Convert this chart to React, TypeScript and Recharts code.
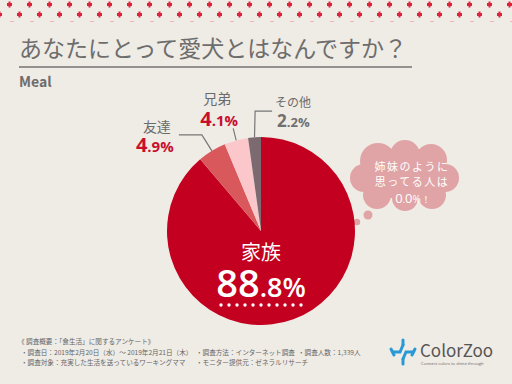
import { PieChart, Pie, Cell } from 'recharts'

const categories = ['家族', '友達', '兄弟', 'その他']
const shares = [88.8, 4.9, 4.1, 2.2]
const sliceColors = ['#c3001f', '#d9585b', '#fbc7ca', '#7b6b70']

const data = categories.map((name, i) => ({ name, value: shares[i] }))

const footerLeft = [
  '・調査日：2019年2月20日（水）～ 2019年2月21日（木）',
  '・調査対象：充実した生活を送っているワーキングママ',
]
const footerMid = ['・調査方法：インターネット調査', '・モニター提供元：ゼネラルリサーチ']

const JP = '"Noto Sans CJK JP", "Noto Sans", sans-serif'
const NUM = '"Open Sans", "Noto Sans", sans-serif'
const RAD = Math.PI / 180

// offsets from the slice's outer edge point for outside labels
const outside: Record<number, any> = {
  1: { line: [[-10, -16], [-33, -16]], name: [-55, -19, 'middle', 14], pct: [-76, 1], color: '#c8102e' },
  2: { line: [[-3, -12]], name: [-19, -36, 'middle', 14], pct: [-36, -14], color: '#c8102e' },
  3: { line: [[0.6, -26], [17.6, -26]], name: [20.6, -30, 'start', 12], pct: [22.6, -10], color: '#707070' },
}

function splitPct(v: number) {
  const s = v.toFixed(1)
  const [a, b] = s.split('.')
  return [a, '.' + b]
}

function renderLabel(props: any) {
  const { cx, cy, midAngle, outerRadius, index, value, name } = props
  const [whole, frac] = splitPct(value)
  if (index === 0) {
    const dots = Array.from({ length: 11 }, (_, i) => i)
    return (
      <g>
        <text x={cx} y={cy + 29} textAnchor="middle" fill="#fff" fontSize={20} fontFamily={JP}>
          {name}
        </text>
        <text x={cx} y={cy + 66} textAnchor="middle" fill="#fff" fontFamily={NUM} fontWeight={600}>
          <tspan fontSize={38}>{whole}</tspan>
          <tspan fontSize={27}>{frac}%</tspan>
        </text>
        {dots.map((d) => (
          <circle key={d} cx={cx - 40 + d * 8} cy={cy + 74} r={1.7} fill="#fff" />
        ))}
      </g>
    )
  }
  const o = outside[index]
  const ex = cx + outerRadius * Math.cos(-midAngle * RAD)
  const ey = cy + outerRadius * Math.sin(-midAngle * RAD)
  const pts = [[ex, ey], ...o.line.map(([dx, dy]: number[]) => [ex + dx, ey + dy])]
  return (
    <g>
      <polyline points={pts.map((p) => p.join(',')).join(' ')} fill="none" stroke="#777" strokeWidth={1.2} />
      <text x={ex + o.name[0]} y={ey + o.name[1]} textAnchor={o.name[2]} fill="#6b6b6b" fontSize={o.name[3]} fontFamily={JP}>
        {name}
      </text>
      <text x={ex + o.pct[0]} y={ey + o.pct[1]} textAnchor="start" fill={o.color} fontFamily={NUM} fontWeight={700}>
        <tspan fontSize={index === 3 ? 17 : 20}>{whole}</tspan>
        <tspan fontSize={index === 3 ? 13 : 15}>{frac}%</tspan>
      </text>
    </g>
  )
}

export default function App() {
  return (
    <div style={{ position: 'fixed', left: 0, top: 0, width: 512, height: 384, background: '#efebe5', overflow: 'hidden' }}>
      <svg width={512} height={384} style={{ position: 'absolute', left: 0, top: 0 }}>
        <defs>
          <pattern id="dots" width={20} height={20} patternUnits="userSpaceOnUse">
            <rect x={7} y={3} width={5} height={3} fill="#e0233d" />
            <rect x={8.5} y={1.5} width={2} height={6} fill="#e0233d" />
            <rect x={17} y={13} width={5} height={3} fill="#e0233d" />
            <rect x={18.5} y={11.5} width={2} height={6} fill="#e0233d" />
            <rect x={-3} y={13} width={5} height={3} fill="#e0233d" />
            <rect x={-1.5} y={11.5} width={2} height={6} fill="#e0233d" />
          </pattern>
        </defs>
        <rect x={0} y={0} width={512} height={20} fill="url(#dots)" />
        {Array.from({ length: 26 }, (_, i) => (
          <rect key={i} x={10 + i * 20} y={21} width={4} height={1} fill="#f0b4bb" />
        ))}
        <line x1={19} y1={67} x2={412} y2={67} stroke="#737373" strokeWidth={1.5} />
        {/* thought cloud */}
        <g fill="#e0a4a6">
          <circle cx={378} cy={161} r={18} />
          <circle cx={405} cy={155} r={15} />
          <circle cx={431} cy={160} r={16} />
          <circle cx={445} cy={178} r={14} />
          <circle cx={432} cy={195} r={14} />
          <circle cx={405} cy={198} r={13} />
          <circle cx={377} cy={195} r={14} />
          <circle cx={364} cy={178} r={14} />
          <rect x={370} y={158} width={72} height={40} />
          <circle cx={368} cy={215} r={4.5} />
          <circle cx={357} cy={222} r={3.2} />
        </g>
        <g fill="#fff" fontFamily={JP} fontSize={11} textAnchor="middle">
          <text x={412} y={171} letterSpacing={1.5}>姉妹のように</text>
          <text x={412} y={186} letterSpacing={1.5}>思ってる人は</text>
          <text x={413} y={203} fontFamily={NUM} fontSize={13}>
            0<tspan fontSize={9}>.</tspan>0<tspan fontSize={10}>%！</tspan>
          </text>
        </g>
        {/* logo */}
        <g stroke="#2a9ad6" strokeWidth={3} fill="none" strokeLinecap="round">
          <path d="M393 352 L400 352 L403 345 M413 352 L406 352 L403 359" />
          <path d="M403 340 L403 345 M403 359 L403 364 M391 349 L394 355 M415 349 L412 355" />
        </g>
        <text x={420} y={357} fontFamily={JP} fontSize={17} fill="#555">ColorZoo</text>
        <text x={421} y={365} fontFamily={NUM} fontSize={4.2} fill="#666">Connect colors to shine through</text>
        {/* footer */}
        <g fontFamily={JP} fontSize={6.6} fill="#666">
          <text x={18} y={344}>《 調査概要：「食生活」に関するアンケート》</text>
          {footerLeft.map((t, i) => (
            <text key={t} x={21} y={355 + i * 10}>{t}</text>
          ))}
          {footerMid.map((t, i) => (
            <text key={t} x={196} y={355 + i * 10}>{t}</text>
          ))}
          <text x={298} y={355}>・調査人数：1,339人</text>
        </g>
      </svg>
      <div
        style={{
          position: 'absolute', left: 19, top: 30, fontFamily: JP, fontSize: 23, color: '#6d6d6d',
          whiteSpace: 'nowrap', lineHeight: '34px',
        }}
      >
        あなたにとって愛犬とはなんですか？
      </div>
      <div style={{ position: 'absolute', left: 19, top: 71, fontFamily: JP, fontSize: 14, fontWeight: 700, color: '#6d6d6d' }}>
        Meal
      </div>
      <div style={{ position: 'absolute', left: 0, top: 0 }}>
        <PieChart width={512} height={384}>
          <Pie
            data={data}
            dataKey="value"
            nameKey="name"
            cx={256}
            cy={226}
            outerRadius={94}
            startAngle={90}
            endAngle={-270}
            stroke="none"
            label={renderLabel}
            labelLine={false}
            isAnimationActive={false}
          >
            {data.map((d, i) => (
              <Cell key={d.name} fill={sliceColors[i]} />
            ))}
          </Pie>
        </PieChart>
      </div>
    </div>
  )
}
